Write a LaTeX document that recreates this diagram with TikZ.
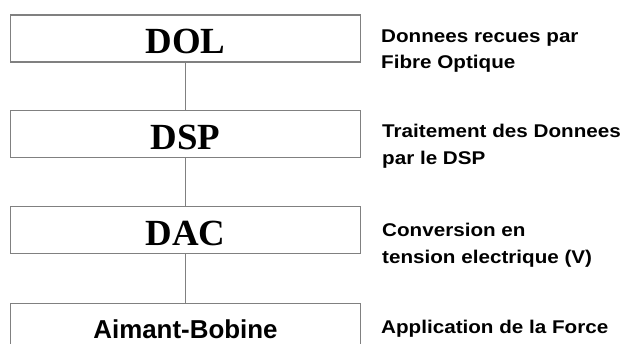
\documentclass[tikz,border=0pt]{standalone}
\usepackage{fontspec}
\setmainfont{Liberation Serif}
\setsansfont{Liberation Sans}
\newfontfamily\notefont[FakeStretch=1.12]{Liberation Sans}
\usetikzlibrary{positioning}
\begin{document}
\begin{tikzpicture}[x=1bp,y=-1bp,
  blk/.style={draw=black!50, line width=1.3bp, minimum width=350bp,
    minimum height=47bp, inner sep=0pt, text depth=0pt},
  blkserif/.style={blk, font=\bfseries\fontsize{37}{40}\selectfont, text height=30.5bp},
  blksans/.style={blk, font=\sffamily\bfseries\fontsize{26}{30}\selectfont, text height=23bp},
  link/.style={draw=black!50, line width=1.3bp},
  note/.style={font=\notefont\bfseries\fontsize{18.5}{26.6}\selectfont,
    align=left, anchor=north west, inner sep=0pt}]%
% chain of blocks, notes on the right
\clip (0,0) rectangle (623,343);
\node[blkserif] (dol) at (185.5,38.5) {DOL};
\node[blkserif, below=47.5bp of dol] (dsp) {DSP};
\node[blkserif, below=47.5bp of dsp] (dac) {DAC};
\node[blksans, below=48.5bp of dac] (bob) {Aimant-Bobine};
\draw[link] (dol) -- (dsp);
\draw[link] (dsp) -- (dac);
\draw[link] (dac) -- (bob);
\node[note] (ndol) at (381,29.5) {Donnees recues par\\Fibre Optique};
\node[note] (ndsp) at (382,124) {Traitement des Donnees\\par le DSP};
\node[note] (ndac) at (382,223) {Conversion en\\tension electrique (V)};
\node[note] (nbob) at (381,319.5) {Application de la Force};
\end{tikzpicture}
\end{document}
